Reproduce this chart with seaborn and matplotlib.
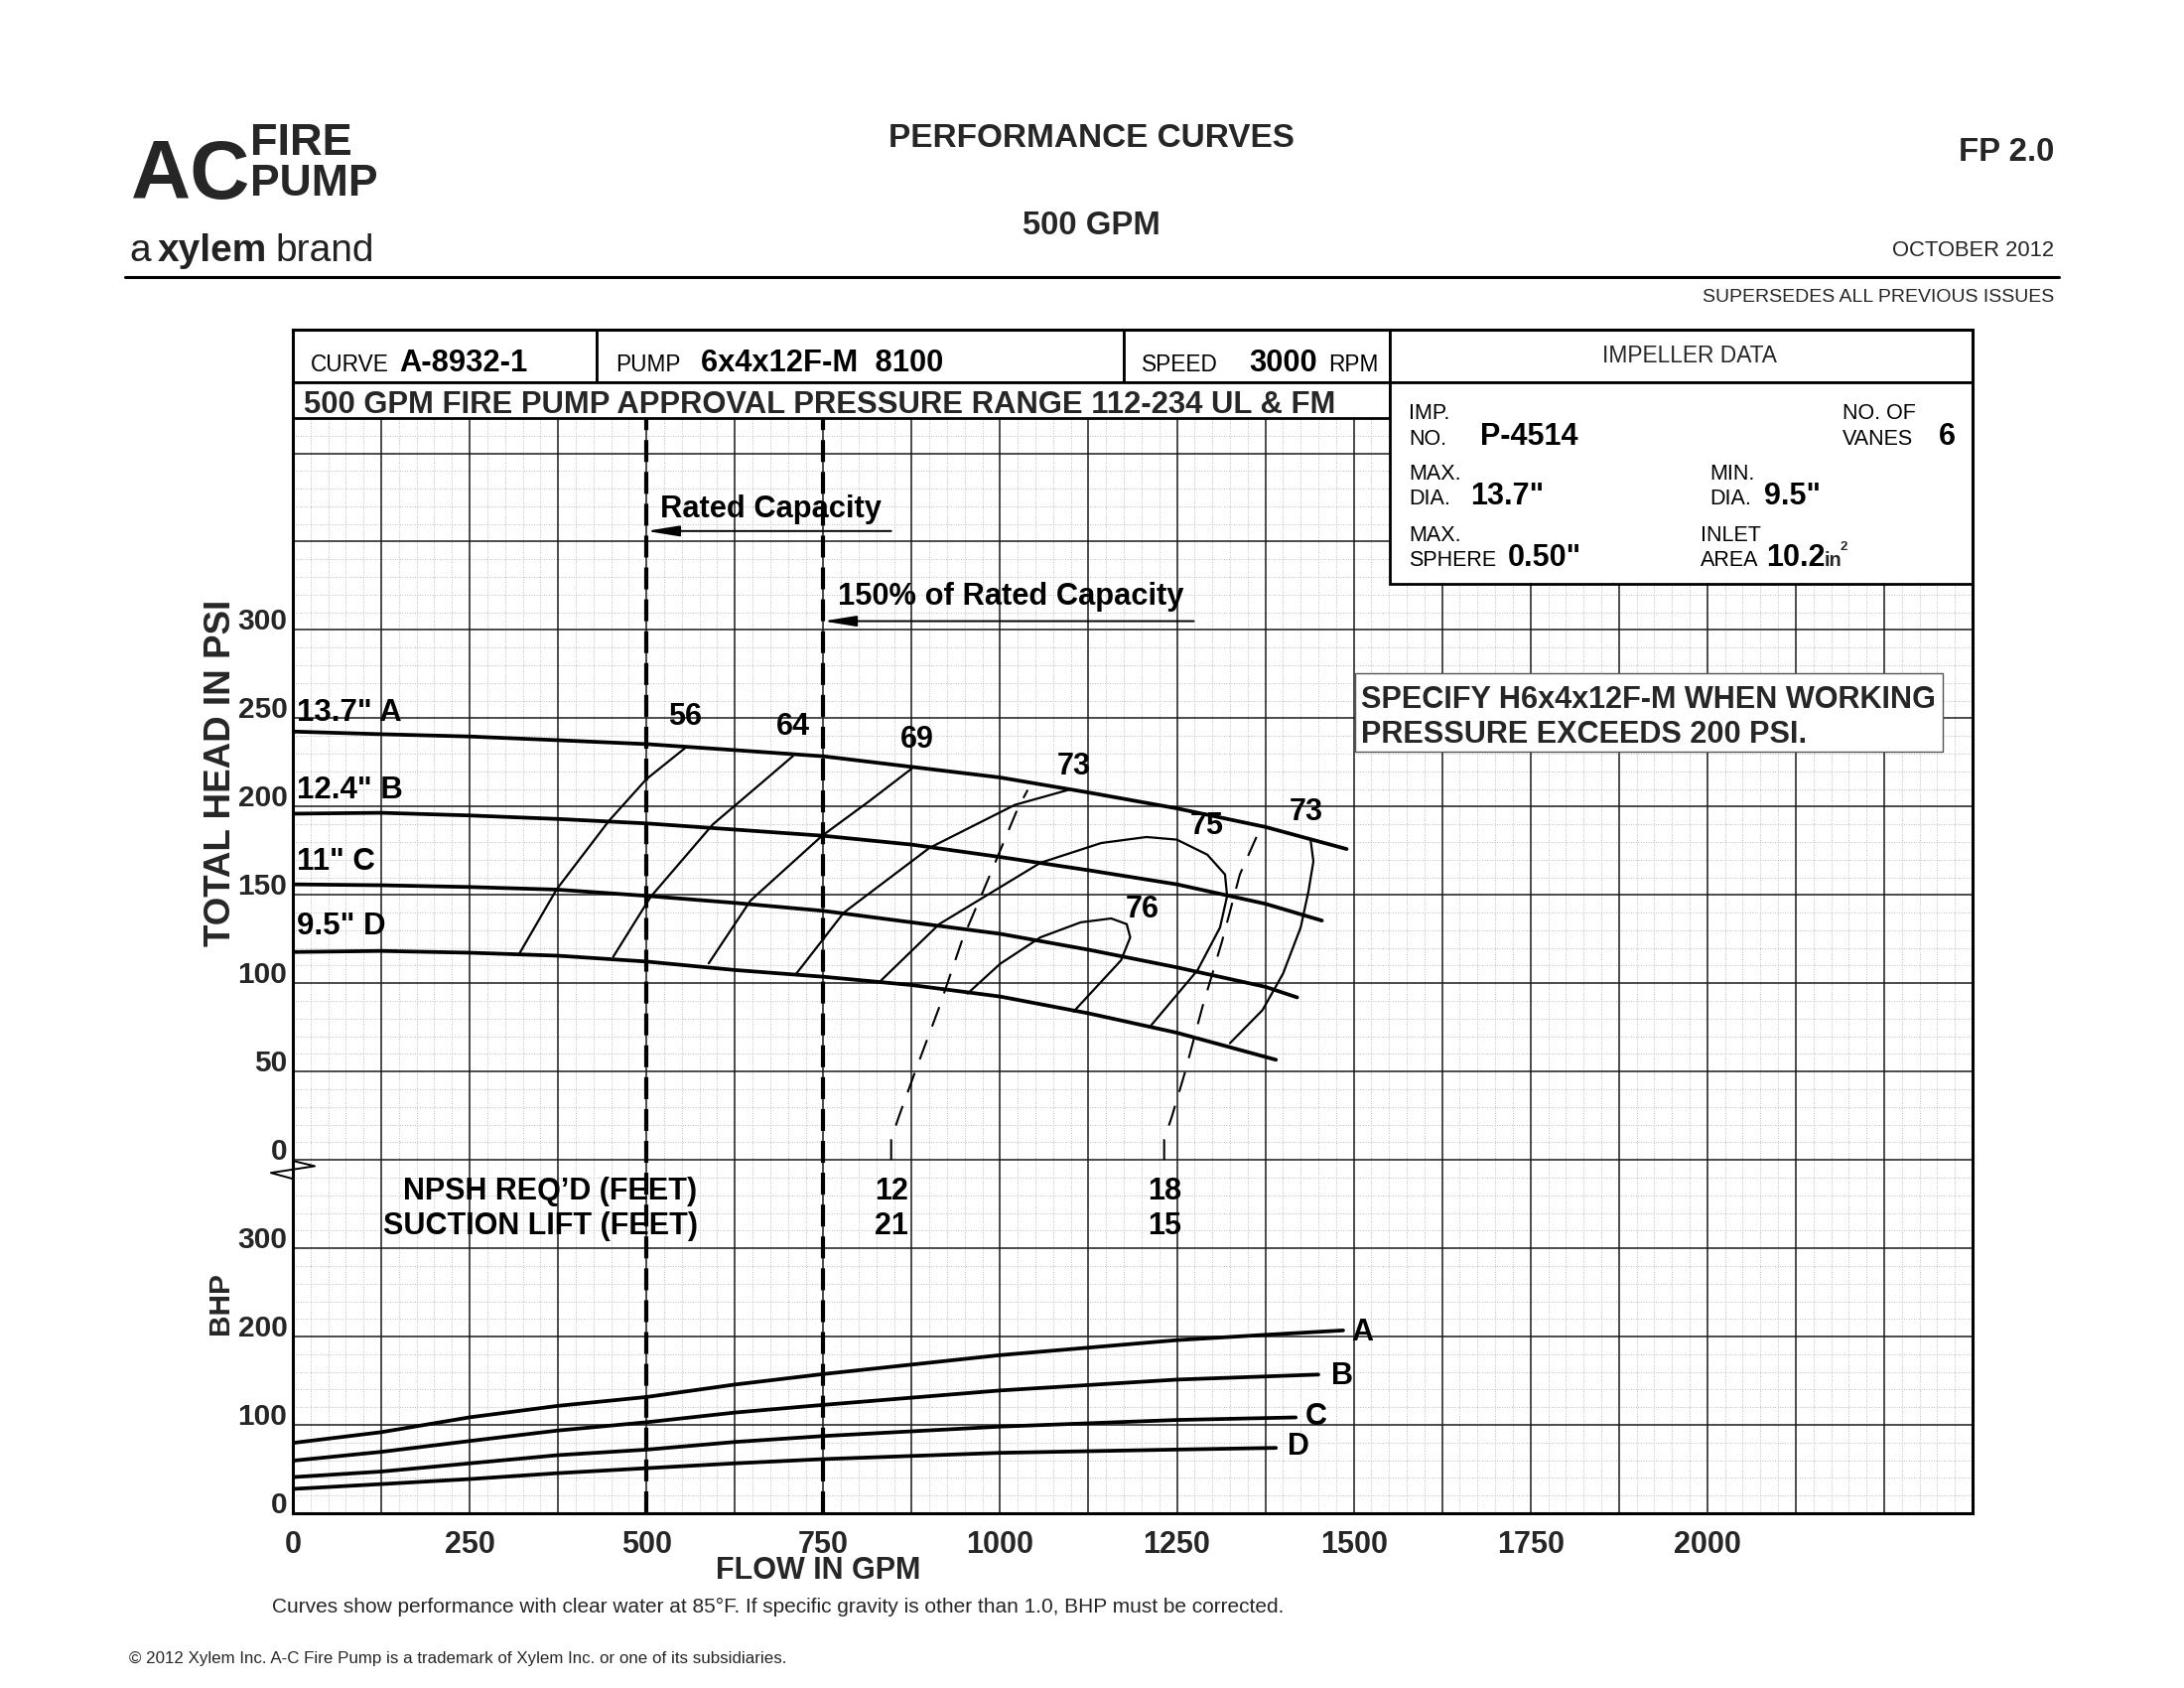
import matplotlib
matplotlib.use("Agg")
import matplotlib.pyplot as plt
from matplotlib.patches import Rectangle
import numpy as np
import seaborn as sns

# ------------------------------------------------------------
# values read off curve A-8932-1 (flow in GPM, head in PSI, BHP)
# ------------------------------------------------------------

# head-capacity curves for the four impeller diameters
flow_a = [0, 125, 250, 375, 500, 625, 750, 875, 1000, 1125, 1250, 1375, 1490]
head_a = [242.5, 241, 239.7, 237.6, 235.4, 232, 228.5, 222.5, 216.5, 208, 199, 188.5, 176]
flow_b = [0, 125, 250, 375, 500, 625, 750, 875, 1000, 1125, 1250, 1375, 1455]
head_b = [196, 196.5, 195, 193, 190.5, 187, 183.5, 178.5, 171.5, 164, 156, 145, 135.5]
flow_c = [0, 125, 250, 375, 500, 625, 750, 875, 1000, 1125, 1250, 1375, 1420]
head_c = [156, 155.5, 154.5, 153, 149.5, 145.5, 141, 134.5, 128, 119, 109, 98, 92]
flow_d = [0, 125, 250, 375, 500, 625, 750, 875, 1000, 1125, 1250, 1390]
head_d = [117.7, 118.3, 117.3, 115.6, 112.3, 107.5, 103.7, 99, 92.5, 83, 72, 56.7]
curve_labels = ['13.7" A', '12.4" B', '11" C', '9.5" D']
curve_label_head = [253, 209, 169, 132]

# iso-efficiency lines (%)
eff56_flow = [321, 373, 447, 500, 555]
eff56_head = [117.3, 153.2, 192, 215.6, 233.3]
eff64_flow = [453, 506, 594, 663, 707]
eff64_head = [115, 149, 190, 213.5, 228.6]
eff69_flow = [588, 647, 748, 814, 875]
eff69_head = [111.3, 146.8, 183.4, 202.8, 221.5]
eff73l_flow = [711, 779, 900, 1021, 1096]
eff73l_head = [105, 140, 176.6, 201, 209.4]
eff73r_flow = [1439, 1443, 1436, 1425, 1400, 1371, 1325]
eff73r_head = [181.3, 169, 152, 131.6, 105.4, 84.8, 66.1]
eff75_flow = [832, 914, 1057, 1143, 1207, 1250, 1293, 1318, 1321, 1311, 1279, 1214]
eff75_head = [101.7, 133.5, 168.2, 179.4, 182.8, 181.3, 172.8, 161.6, 149.4, 131.6, 107.3, 76.4]
eff76_flow = [954, 1000, 1057, 1114, 1157, 1179, 1184, 1171, 1104]
eff76_head = [94.2, 111, 126, 134.5, 136.7, 133.5, 126, 113, 84]
eff_labels = ["56", "64", "69", "73", "75", "73", "76"]
eff_label_flow = [555, 707, 882, 1104, 1293, 1433, 1201]
eff_label_head = [251, 245, 237.6, 222.6, 188.8, 197, 142]

# NPSH required lines (dashed)
npsh12_flow = [846, 846, 857, 879, 914, 946, 986, 1025, 1039]
npsh12_head = [0, 11.6, 24.7, 49, 86.5, 124, 161.6, 199, 209.4]
npsh18_flow = [1232, 1232, 1243, 1261, 1286, 1314, 1339, 1368]
npsh18_head = [0, 11.6, 24.7, 49, 86.5, 124, 161.6, 187.8]
npsh_values = ["12", "18"]
suction_values = ["21", "15"]

# brake horsepower curves
bhp_flow_a = [0, 125, 250, 375, 500, 625, 750, 1000, 1250, 1375, 1485]
bhp_a = [79.6, 91.8, 108.6, 121.6, 131.6, 145.7, 157.6, 179, 196, 202, 207]
bhp_flow_b = [0, 125, 250, 375, 500, 625, 750, 1000, 1250, 1450]
bhp_b = [59.5, 69.5, 81.8, 93.7, 103, 114, 122.7, 139, 151.3, 157]
bhp_flow_c = [0, 125, 250, 375, 500, 625, 750, 1000, 1250, 1418]
bhp_c = [40.9, 47.2, 56.5, 65.8, 72, 80.7, 87.4, 98.1, 105.6, 108.5]
bhp_flow_d = [0, 125, 250, 375, 500, 625, 750, 1000, 1250, 1390]
bhp_d = [27.5, 33, 38.7, 45.4, 51, 56.5, 61.3, 68.4, 72.1, 74]
bhp_letters = ["A", "B", "C", "D"]
bhp_letter_flow = [1497, 1468, 1432, 1407]
bhp_letter_val = [205, 155, 108.5, 75]

rated_flow = 500
rated_150 = 750
flow_ticks = [0, 250, 500, 750, 1000, 1250, 1500, 1750, 2000]
head_ticks = [0, 50, 100, 150, 200, 250, 300]
bhp_ticks = [0, 100, 200, 300]

# ------------------------------------------------------------
# figure setup
# ------------------------------------------------------------

sns.set_theme(style="white")
SANS = ["Liberation Sans", "DejaVu Sans"]
plt.rcParams["font.family"] = SANS

W, H = 2200, 1700
fig = plt.figure(figsize=(22, 17), dpi=100)
fig.patch.set_facecolor("white")


def ftext(px, py, s, **kw):
    # place page text by pixel position on the sheet
    return fig.text(px / W, 1 - py / H, s, **kw)


ax = fig.add_axes([295 / W, 1 - 1524 / H, (1987 - 295) / W, (1524 - 332) / H])
ax.set_xlim(0, 2375)
ax.set_ylim(-200, 470)
ax.set_facecolor("white")

# graph paper grid
for x in np.arange(0, 2376, 25):
    if x % 125:
        ax.plot([x, x], [-200, 470], color="#a8a8a8", lw=0.6, ls=(0, (1, 2)), zorder=0.5)
for y in np.arange(-200, 471, 10):
    if y % 50:
        ax.plot([0, 2375], [y, y], color="#a8a8a8", lw=0.6, ls=(0, (1, 2)), zorder=0.5)
for x in np.arange(125, 2375, 125):
    ax.plot([x, x], [-200, 470], color="#1a1a1a", lw=1.1, zorder=0.6)
for y in np.arange(-150, 470, 50):
    ax.plot([0, 2375], [y, y], color="#1a1a1a", lw=1.1, zorder=0.6)

for sp in ax.spines.values():
    sp.set_linewidth(2.2)
    sp.set_color("black")
    sp.set_zorder(6)

# ------------------------------------------------------------
# head curves and efficiency lines
# ------------------------------------------------------------

heads = [(flow_a, head_a), (flow_b, head_b), (flow_c, head_c), (flow_d, head_d)]
for fl, hd in heads:
    sns.lineplot(x=fl, y=hd, ax=ax, color="black", linewidth=2.7,
                 sort=False, estimator=None, legend=False, zorder=2)

effs = [(eff56_flow, eff56_head), (eff64_flow, eff64_head), (eff69_flow, eff69_head),
        (eff73l_flow, eff73l_head), (eff73r_flow, eff73r_head),
        (eff75_flow, eff75_head), (eff76_flow, eff76_head)]
for fl, hd in effs:
    sns.lineplot(x=fl, y=hd, ax=ax, color="black", linewidth=1.6,
                 sort=False, estimator=None, legend=False, zorder=2)

for fl, hd in [(npsh12_flow, npsh12_head), (npsh18_flow, npsh18_head)]:
    ax.plot(fl, hd, color="black", lw=1.5, ls=(0, (10, 7)), zorder=2)

txt_kw = dict(fontweight="bold", color="black")
for lab, fl, hd in zip(eff_labels, eff_label_flow, eff_label_head):
    ax.text(fl, hd, lab, ha="center", va="center", fontsize=22, zorder=4, **txt_kw)

for lab, yy in zip(curve_labels, curve_label_head):
    ax.text(6, yy, lab, ha="left", va="center", fontsize=22.5, zorder=4, **txt_kw)

# rated capacity markers
for fl in [rated_flow, rated_150]:
    ax.plot([fl, fl], [-200, 420], color="black", lw=3.0, ls=(0, (5.3, 2.4)), zorder=3)

arrow = dict(arrowstyle="-|>,head_length=0.8,head_width=0.13", lw=1.4, color="black",
             mutation_scale=25, shrinkA=0, shrinkB=0)
ax.annotate("", xy=(rated_flow, 356), xytext=(846, 356), arrowprops=arrow, zorder=3)
ax.text(519, 368.5, "Rated Capacity", ha="left", va="center", fontsize=22.2, zorder=4, **txt_kw)
ax.annotate("", xy=(rated_150, 305), xytext=(1274, 305), arrowprops=arrow, zorder=3)
ax.text(770, 319, "150% of Rated Capacity", ha="left", va="center", fontsize=22.2, zorder=4, **txt_kw)

# NPSH / suction lift table
ax.text(364, -18, "NPSH REQ\u2019D (FEET)", ha="center", va="center", fontsize=22, zorder=2.5, **txt_kw)
ax.text(350, -37.6, "SUCTION LIFT (FEET)", ha="center", va="center", fontsize=22, zorder=2.5, **txt_kw)
for fl, n, s in zip([npsh12_flow[0], npsh18_flow[0]], npsh_values, suction_values):
    ax.text(fl, -18, n, ha="center", va="center", fontsize=22, zorder=2.5, **txt_kw)
    ax.text(fl, -37.6, s, ha="center", va="center", fontsize=22, zorder=2.5, **txt_kw)

# axis break mark
ax.plot([0, 31, -31, 0], [-0.5, -3.5, -7.3, -10.7], color="black", lw=1.4,
        clip_on=False, zorder=7)

# ------------------------------------------------------------
# BHP curves on a twin scale (BHP 0 at the bottom edge)
# ------------------------------------------------------------

ax2 = ax.twinx()
ax2.set_ylim(0, 1340)
bhps = [(bhp_flow_a, bhp_a), (bhp_flow_b, bhp_b), (bhp_flow_c, bhp_c), (bhp_flow_d, bhp_d)]
for fl, bp in bhps:
    sns.lineplot(x=fl, y=bp, ax=ax2, color="black", linewidth=2.7,
                 sort=False, estimator=None, legend=False, zorder=2)
for lab, fl, bp in zip(bhp_letters, bhp_letter_flow, bhp_letter_val):
    ax2.text(fl, bp, lab, ha="left", va="center", fontsize=22, **txt_kw)
for sp in ax2.spines.values():
    sp.set_visible(False)

# ticks
ax.set_xticks(flow_ticks)
ax.set_xticklabels([str(v) for v in flow_ticks], fontweight="bold", fontsize=22)
ax.set_yticks(head_ticks)
ax.set_yticklabels([str(v) for v in head_ticks], fontweight="bold", fontsize=21.5)
ax.tick_params(axis="x", length=0, pad=12)
ax.tick_params(axis="y", length=0, pad=4)
for t in ax.get_yticklabels():
    t.set_verticalalignment("baseline")
ax2.set_yticks(bhp_ticks)
ax2.yaxis.tick_left()
ax2.set_yticklabels([str(v) for v in bhp_ticks], fontweight="bold", fontsize=21.5)
ax2.tick_params(axis="y", length=0, pad=4)
for t in ax2.get_yticklabels():
    t.set_verticalalignment("baseline")

# ------------------------------------------------------------
# header boxes inside the chart frame
# ------------------------------------------------------------

def box(x0, y0, x1, y1, lw=2.0, ec="black"):
    ax.add_patch(Rectangle((x0, y0), x1 - x0, y1 - y0, facecolor="white",
                           edgecolor=ec, lw=lw, zorder=3.5))


def after(prev, s, gap, **kw):
    # text that continues right after another text on the same line
    return ax.annotate(s, xy=(1, 0), xycoords=prev, xytext=(gap, 0),
                       textcoords="offset points", ha="left", va="bottom",
                       annotation_clip=False, zorder=5, **kw)


box(0, 440, 429.5, 470)
box(429.5, 440, 1175, 470)
box(1175, 440, 1551, 470)
box(1551, 440, 2375, 470)
box(0, 420, 1551, 440)
box(1551, 326, 2375, 440)

small = dict(fontsize=16.3, color="black", va="baseline", zorder=5)
big = dict(fontweight="bold", fontsize=22.2, color="black", va="baseline", zorder=5)
ax.text(25, 446.6, "CURVE", **small)
ax.text(150, 446.6, "A-8932-1", **big)
ax.text(456, 446.6, "PUMP", **small)
ax.text(577, 446.6, "6x4x12F-M  8100", **big)
ax.text(1200, 446.6, "SPEED", **small)
ax.text(1352, 446.6, "3000", **big)
ax.text(1464, 446.6, "RPM", **small)
ax.text(1975, 455, "IMPELLER DATA", fontsize=16.4, ha="center", va="center", zorder=5)
ax.text(15, 423, "500 GPM FIRE PUMP APPROVAL PRESSURE RANGE 112-234 UL & FM",
        fontweight="bold", fontsize=22.3, va="baseline", zorder=5)

lab = dict(fontsize=15.5, color="black", va="baseline", zorder=5, linespacing=1.3)
val = dict(fontweight="bold", fontsize=22, color="black", va="baseline", zorder=5)
ax.text(1578, 405, "IMP.\nNO.", **lab)
ax.text(1679, 405, "P-4514", **val)
ax.text(2191, 405, "NO. OF\nVANES", **lab)
ax.text(2327, 405, "6", **val)
ax.text(1578, 370.8, "MAX.\nDIA.", **lab)
ax.text(1665, 370.8, '13.7"', **val)
ax.text(2003, 370.8, "MIN.\nDIA.", **lab)
ax.text(2080, 370.8, '9.5"', **val)
ax.text(1578, 336, "MAX.\nSPHERE", **lab)
ax.text(1718, 336, '0.50"', **val)
ax.text(1990, 336, "INLET\nAREA", **lab)
ax.text(2083, 336, "10.2", **val)
ax.text(2166, 336, "in", fontweight="bold", fontsize=14.5, va="baseline", zorder=5)
ax.text(2188, 345, "2", fontweight="bold", fontsize=9.5, va="baseline", zorder=5)

# working pressure note
box(1502, 231, 2333, 275.3, lw=1.0, ec="#555555")
ax.text(1510, 256, "SPECIFY H6x4x12F-M WHEN WORKING", fontweight="bold",
        fontsize=22.1, va="baseline", zorder=5)
ax.text(1510, 236, "PRESSURE EXCEEDS 200 PSI.", fontweight="bold",
        fontsize=22.1, va="baseline", zorder=5)

# ------------------------------------------------------------
# page text: titles, logo, axis titles, footer
# ------------------------------------------------------------

ftext(222, 778, "TOTAL HEAD IN PSI", rotation=90, ha="center", va="center",
      fontweight="bold", fontsize=26.5)
ftext(222, 1313, "BHP", rotation=90, ha="center", va="center",
      fontweight="bold", fontsize=21.5)
ftext(824, 1582, "FLOW IN GPM", ha="center", va="center", fontweight="bold", fontsize=22)

ftext(1099, 139, "PERFORMANCE CURVES", ha="center", va="center", fontweight="bold", fontsize=24)
ftext(1099, 227, "500 GPM", ha="center", va="center", fontweight="bold", fontsize=23.7)
ftext(2069, 154, "FP 2.0", ha="right", va="center", fontweight="bold", fontsize=23.7)
ftext(2069, 253, "OCTOBER 2012", ha="right", va="center", fontsize=15.8)
ftext(2069, 300, "SUPERSEDES ALL PREVIOUS ISSUES", ha="right", va="center", fontsize=14)
fig.add_artist(plt.Line2D([126 / W, 2074 / W], [1 - 279 / H, 1 - 279 / H],
                          color="black", lw=2.2))

# logo
ftext(132, 200, "AC", ha="left", va="baseline", fontweight="bold", fontsize=60)
ftext(252, 156, "FIRE", ha="left", va="baseline", fontweight="bold", fontsize=32.5)
ftext(252, 197, "PUMP", ha="left", va="baseline", fontweight="bold", fontsize=32)
t_a = ftext(130, 271, "a", ha="left", va="bottom", fontsize=28, color="#222222")
t_xy = after(t_a, "xylem", 5, fontweight="bold", fontsize=28, color="#222222")
after(t_xy, "brand", 6, fontsize=28, color="#222222")

ftext(274, 1618, "Curves show performance with clear water at 85\u00b0F. If specific gravity is "
      "other than 1.0, BHP must be corrected.", ha="left", va="center", fontsize=15)
ftext(130, 1670, "\u00a9 2012 Xylem Inc. A-C Fire Pump is a trademark of Xylem Inc. or one of "
      "its subsidiaries.", ha="left", va="center", fontsize=12.2)

fig.savefig("out.png", dpi=100, facecolor="white")
